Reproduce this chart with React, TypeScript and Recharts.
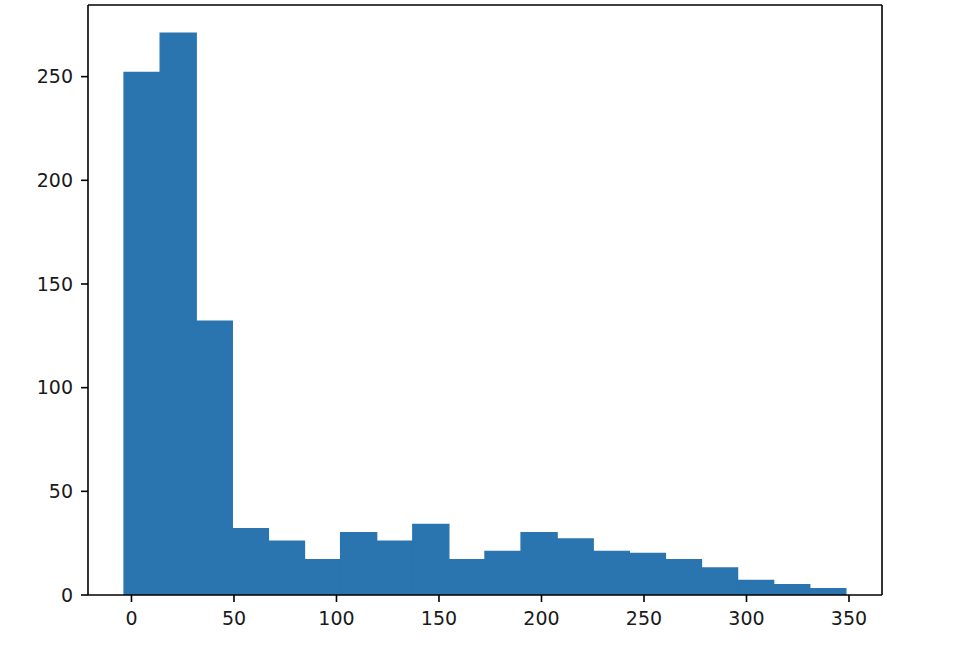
import { ComposedChart, Bar, XAxis, YAxis } from "recharts";

// histogram counts, one per bin (20 equal-width bins)
const counts = [252, 271, 132, 32, 26, 17, 30, 26, 34, 17, 21, 30, 27, 21, 20, 17, 13, 7, 5, 3];
const binStart = -3.6;
const binEnd = 348.5;
const xTicks = [0, 50, 100, 150, 200, 250, 300, 350];
const yTicks = [0, 50, 100, 150, 200, 250];

const binWidth = (binEnd - binStart) / counts.length;
const rows = counts.map((count, i) => ({ x: binStart + (i + 0.5) * binWidth, count }));

// matplotlib-style 5% margins
const xPad = (binEnd - binStart) * 0.05;
const xDomain = [binStart - xPad, binEnd + xPad];
const yDomain = [0, Math.max(...counts) * 1.05];

const W = 980;
const H = 646;
const BLUE = "#2a75b0";
const INK = "#000";
const tickFont = { fontFamily: "DejaVu Sans", fontSize: 19, fill: "#1a1a1a" };

export default function App() {
  return (
    <div style={{ position: "absolute", left: 0, top: 0, width: W, height: H, background: "#fff" }}>
      <ComposedChart
        width={W}
        height={H}
        data={rows}
        margin={{ top: 4, right: 97, bottom: 11, left: 8 }}
        barCategoryGap={0}
        barGap={0}
      >
        <XAxis
          dataKey="x"
          type="number"
          domain={xDomain}
          allowDataOverflow
          ticks={xTicks}
          height={40}
          tick={tickFont}
          tickSize={7}
          tickMargin={10}
          tickLine={{ stroke: INK, strokeWidth: 1.6 }}
          axisLine={{ stroke: INK, strokeWidth: 1.6 }}
        />
        <XAxis
          xAxisId="top"
          orientation="top"
          dataKey="x"
          type="number"
          domain={xDomain}
          allowDataOverflow
          height={1}
          tick={false}
          tickLine={false}
          axisLine={{ stroke: INK, strokeWidth: 1.6 }}
        />
        <YAxis
          type="number"
          domain={yDomain}
          allowDataOverflow
          ticks={yTicks}
          width={80}
          tick={tickFont}
          tickSize={7}
          tickMargin={8}
          tickLine={{ stroke: INK, strokeWidth: 1.6 }}
          axisLine={{ stroke: INK, strokeWidth: 1.6 }}
        />
        <YAxis
          yAxisId="right"
          orientation="right"
          type="number"
          domain={yDomain}
          allowDataOverflow
          width={1}
          tick={false}
          tickLine={false}
          axisLine={{ stroke: INK, strokeWidth: 1.6 }}
        />
        <Bar
          dataKey="count"
          fill={BLUE}
          stroke={BLUE}
          strokeWidth={1.4}
          isAnimationActive={false}
        />
      </ComposedChart>
    </div>
  );
}
